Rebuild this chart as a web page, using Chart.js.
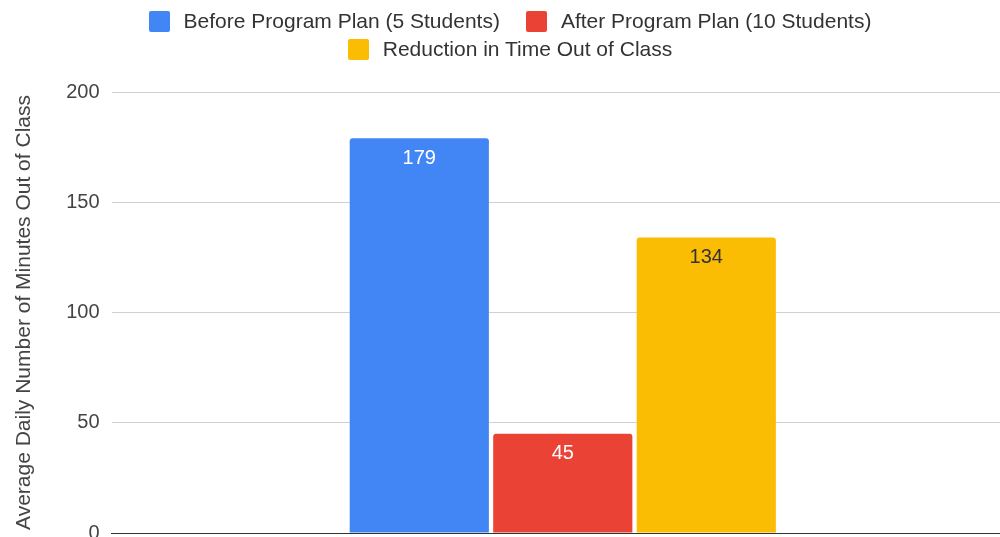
<!DOCTYPE html>
<html>
<head>
<meta charset="utf-8">
<script src="https://cdn.jsdelivr.net/npm/chart.js@4.4.0/dist/chart.umd.min.js"></script>
<style>
  html, body { margin: 0; padding: 0; background: #fff; overflow: hidden; }
  #wrap { width: 1014px; height: 557px; position: relative; }
  #leyenda {
    position: absolute; top: 7px; left: 130px; width: 760px; z-index: 2;
    display: flex; flex-wrap: wrap; justify-content: center;
    font-family: "Liberation Sans", Arial, sans-serif; font-size: 21px; color: #333;
  }
  #leyenda .item { display: flex; align-items: center; height: 28px; margin: 0 13px; }
  #leyenda .caja { width: 21px; height: 21px; border-radius: 2px; margin-right: 14px; }
</style>
</head>
<body>
<div id="wrap">
  <div id="leyenda"></div>
  <canvas id="grafico"></canvas>
</div>
<script>
const categorias = [''];
const series = ['Before Program Plan (5 Students)', 'After Program Plan (10 Students)', 'Reduction in Time Out of Class'];
const antes = [179];
const despues = [45];
const reduccion = [134];
const colores = ['#4285F4', '#EA4335', '#FBBC04'];
const colorEtiqueta = ['#ffffff', '#ffffff', '#333333'];
const ticksY = [0, 50, 100, 150, 200];
const fuente = '"Liberation Sans", Arial, sans-serif';

// leyenda en HTML para que corte en dos filas
const leyenda = document.getElementById('leyenda');
series.forEach((nombre, i) => {
  const item = document.createElement('div');
  item.className = 'item';
  item.innerHTML = `<span class="caja" style="background:${colores[i]}"></span><span>${nombre}</span>`;
  leyenda.appendChild(item);
});

// etiquetas de valor dentro de cada barra, cerca del borde superior
const etiquetasBarras = {
  id: 'etiquetasBarras',
  afterDatasetsDraw(chart) {
    const ctx = chart.ctx;
    ctx.save();
    ctx.font = '20px ' + fuente;
    ctx.textAlign = 'center';
    ctx.textBaseline = 'middle';
    chart.data.datasets.forEach((ds, i) => {
      chart.getDatasetMeta(i).data.forEach((bar, j) => {
        ctx.fillStyle = colorEtiqueta[i];
        ctx.fillText(ds.data[j], bar.x, bar.y + 20);
      });
    });
    ctx.restore();
  }
};

const datos = [antes, despues, reduccion];
new Chart(document.getElementById('grafico'), {
  type: 'bar',
  data: {
    labels: categorias,
    datasets: series.map((nombre, i) => ({
      label: nombre,
      data: datos[i],
      backgroundColor: colores[i],
      borderRadius: { topLeft: 3, topRight: 3 },
      borderSkipped: 'start',
      barPercentage: 0.97,
      categoryPercentage: 0.477
    }))
  },
  options: {
    responsive: true,
    maintainAspectRatio: false,
    animation: false,
    layout: { padding: { left: 8, top: 92, right: 0, bottom: 0 } },
    plugins: {
      legend: { display: false },
      tooltip: { enabled: false }
    },
    scales: {
      x: {
        ticks: { display: false },
        grid: { display: false },
        border: { color: '#333', width: 1 }
      },
      y: {
        min: 0,
        max: 200,
        afterBuildTicks(axis) { axis.ticks = ticksY.map(v => ({ value: v })); },
        ticks: {
          color: '#444',
          font: { family: fuente, size: 20 },
          padding: 12
        },
        grid: { color: '#d0d0d0', drawTicks: false },
        border: { display: false },
        title: {
          display: true,
          text: 'Average Daily Number of Minutes Out of Class',
          color: '#444',
          font: { family: fuente, size: 21 },
          padding: { top: 4, bottom: 17 }
        }
      }
    }
  },
  plugins: [etiquetasBarras]
});
</script>
</body>
</html>
